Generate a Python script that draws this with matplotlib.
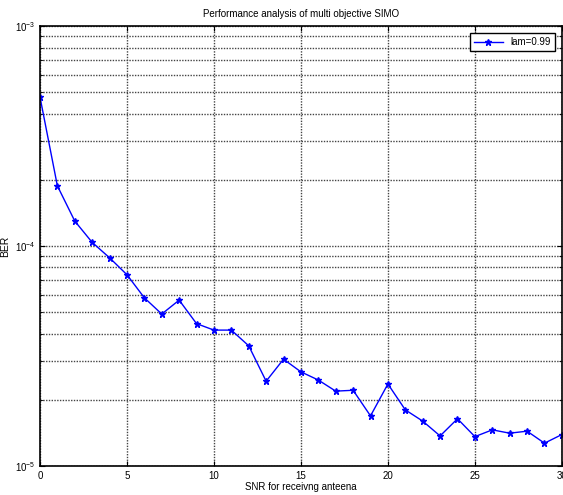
import matplotlib
matplotlib.use('Agg')
import matplotlib.pyplot as plt
from matplotlib.ticker import LogLocator, NullFormatter

# BER vs SNR, lam = 0.99
snr = list(range(0, 31))
ber = [4.77e-4, 1.88e-4, 1.30e-4, 1.04e-4, 8.85e-5, 7.41e-5, 5.82e-5, 4.91e-5,
       5.68e-5, 4.44e-5, 4.15e-5, 4.15e-5, 3.52e-5, 2.43e-5, 3.06e-5, 2.68e-5,
       2.46e-5, 2.19e-5, 2.21e-5, 1.69e-5, 2.36e-5, 1.80e-5, 1.60e-5, 1.37e-5,
       1.64e-5, 1.36e-5, 1.46e-5, 1.41e-5, 1.44e-5, 1.27e-5, 1.39e-5]
xticks = [0, 5, 10, 15, 20, 25, 30]

plt.rcParams['font.family'] = ['Liberation Sans', 'DejaVu Sans']
plt.rcParams['mathtext.fontset'] = 'custom'
plt.rcParams['mathtext.rm'] = 'Liberation Sans'

fig = plt.figure(figsize=(5.63, 4.95), dpi=100)
ax = fig.add_axes([0.071, 0.0586, 0.927, 0.8884])

ax.semilogy(snr, ber, '-*', color='blue', lw=1.0, ms=4.5, label='lam=0.99')

ax.set_xlim(0, 30)
ax.set_ylim(1e-5, 1e-3)
ax.set_xticks(xticks)
ax.yaxis.set_major_locator(LogLocator(base=10))
ax.yaxis.set_minor_locator(LogLocator(base=10, subs=range(2, 10)))
ax.yaxis.set_minor_formatter(NullFormatter())

# dense dotted grid, MATLAB style
ax.grid(True, which='major', color='#444444', linestyle=(0, (1, 1)), lw=1.0)
ax.grid(True, which='minor', axis='y', color='#444444', linestyle=(0, (1, 1)), lw=1.0)
ax.tick_params(which='both', direction='in', labelsize=7, top=True, right=True)
for sp in ax.spines.values():
    sp.set_linewidth(1.2)

ax.set_title('Performance analysis of multi objective SIMO', fontsize=7, pad=7)
ax.set_xlabel('SNR for receivng anteena', fontsize=7, labelpad=1)
ax.set_ylabel('BER', fontsize=7.5, labelpad=3)

leg = ax.legend(loc='upper right', fontsize=7, fancybox=False, framealpha=1,
                borderpad=0.4, handlelength=3, borderaxespad=0.7)
leg.get_frame().set_edgecolor('black')
leg.get_frame().set_linewidth(1.0)

fig.savefig('out.png', dpi=100)
